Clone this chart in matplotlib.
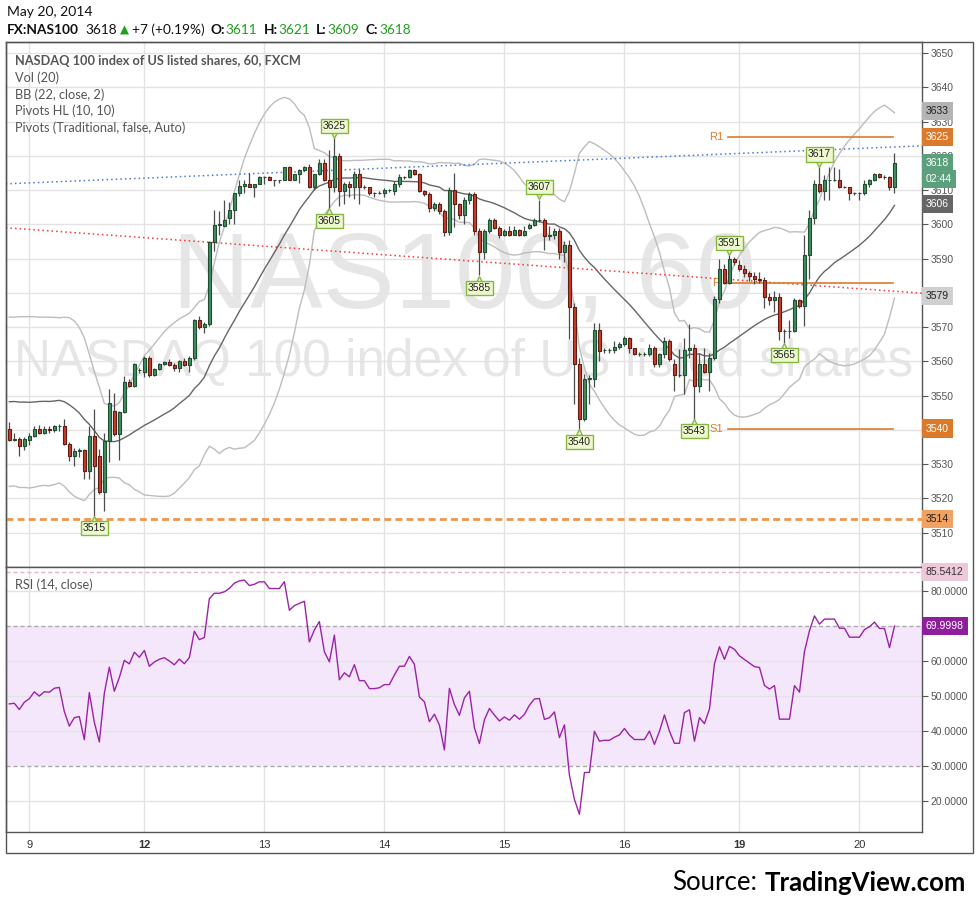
import numpy as np
import pandas as pd
import matplotlib.pyplot as plt
import matplotlib.transforms as mtransforms
from matplotlib.patches import Rectangle

plt.rcParams['font.family'] = ['Lato', 'DejaVu Sans']

# FX:NAS100, 60 min bars (May 8 - May 20, 2014)
opens = [
    3540.2, 3537.1, 3537.3, 3535.2, 3537.1, 3538.3, 3540.2, 3539.1, 3540.2, 3540.1,
    3541.0, 3541.2, 3536.0, 3532.3, 3533.9, 3534.1, 3528.1, 3538.3, 3532.5, 3522.0,
    3536.8, 3545.6, 3538.8, 3545.1, 3554.1, 3552.8, 3557.5, 3557.0, 3561.1, 3555.9,
    3557.9, 3559.2, 3559.9, 3559.0, 3558.0, 3560.1, 3559.0, 3561.1, 3572.0, 3570.1,
    3570.8, 3594.9, 3599.9, 3599.4, 3601.9, 3604.1, 3609.0, 3611.1, 3611.9, 3610.9,
    3611.9, 3613.8, 3613.8, 3612.8, 3612.8, 3612.8, 3616.7, 3612.8, 3614.8, 3615.8,
    3616.7, 3610.9, 3614.8, 3617.9, 3612.8, 3610.9, 3619.8, 3609.6, 3611.9, 3610.9,
    3614.8, 3610.9, 3610.9, 3609.0, 3609.0, 3609.0, 3609.9, 3609.6, 3611.9, 3613.8,
    3613.8, 3615.9, 3614.8, 3609.6, 3608.7, 3604.8, 3606.0, 3603.8, 3597.7, 3609.9,
    3605.8, 3602.8, 3607.0, 3608.7, 3598.0, 3591.9, 3598.0, 3601.2, 3599.0, 3597.0,
    3598.0, 3597.0, 3598.2, 3597.0, 3599.0, 3599.9, 3601.2, 3601.3, 3596.7, 3597.0,
    3598.0, 3591.9, 3594.1, 3575.9, 3559.2, 3543.1, 3555.0, 3555.0, 3569.1, 3563.3,
    3563.3, 3563.3, 3564.3, 3565.0, 3566.9, 3564.0, 3562.1, 3562.1, 3562.1, 3564.0,
    3559.2, 3562.1, 3566.0, 3559.2, 3556.0, 3556.0, 3563.3, 3564.0, 3552.8, 3559.2,
    3556.9, 3561.1, 3578.1, 3587.0, 3582.9, 3589.9, 3588.0, 3587.0, 3585.9, 3584.9,
    3583.9, 3583.7, 3578.9, 3577.9, 3578.9, 3568.9, 3568.9, 3568.9, 3577.9, 3576.1,
    3590.9, 3601.9, 3611.9, 3609.6, 3613.0, 3613.0, 3613.0, 3610.9, 3610.9, 3609.0,
    3609.0, 3609.0, 3611.9, 3613.0, 3614.8, 3613.8, 3613.8, 3610.9]
highs = [
    3542.2, 3539.0, 3537.8, 3537.8, 3539.0, 3541.2, 3541.5, 3541.2, 3541.0, 3541.4,
    3541.8, 3543.1, 3536.4, 3534.6, 3534.8, 3534.5, 3541.0, 3546.0, 3534.4, 3539.0,
    3551.9, 3550.9, 3545.6, 3555.8, 3555.0, 3559.6, 3558.2, 3561.6, 3561.6, 3558.2,
    3559.5, 3560.2, 3560.8, 3559.5, 3560.4, 3561.0, 3561.5, 3572.5, 3573.3, 3571.5,
    3595.0, 3604.1, 3603.8, 3607.0, 3606.5, 3609.2, 3613.0, 3612.8, 3615.0, 3611.9,
    3614.0, 3614.0, 3614.0, 3613.0, 3613.0, 3616.7, 3616.9, 3614.8, 3616.0, 3617.0,
    3617.5, 3614.8, 3619.0, 3619.2, 3621.7, 3625.1, 3620.8, 3612.3, 3612.5, 3615.5,
    3616.0, 3611.5, 3611.0, 3609.5, 3609.6, 3610.5, 3610.2, 3612.6, 3614.8, 3614.0,
    3616.0, 3616.0, 3615.0, 3610.0, 3609.5, 3606.5, 3606.5, 3604.5, 3611.0, 3615.0,
    3606.3, 3608.0, 3609.3, 3609.5, 3599.0, 3598.6, 3601.8, 3601.8, 3599.5, 3598.5,
    3599.5, 3599.5, 3598.5, 3599.5, 3600.5, 3601.8, 3607.2, 3601.8, 3599.5, 3599.0,
    3599.0, 3595.0, 3595.5, 3577.0, 3561.0, 3556.3, 3556.0, 3571.3, 3571.3, 3564.0,
    3563.8, 3566.0, 3565.8, 3567.5, 3567.2, 3564.0, 3562.8, 3562.8, 3565.0, 3564.5,
    3562.5, 3567.0, 3566.5, 3560.8, 3563.5, 3566.9, 3571.0, 3565.0, 3562.5, 3564.0,
    3562.5, 3579.0, 3590.0, 3588.5, 3590.9, 3590.5, 3589.5, 3588.0, 3586.5, 3586.0,
    3586.0, 3584.5, 3580.0, 3580.5, 3580.0, 3569.5, 3572.0, 3578.5, 3578.2, 3597.0,
    3604.3, 3613.0, 3616.7, 3614.5, 3616.7, 3616.7, 3616.0, 3611.3, 3611.0, 3609.3,
    3609.3, 3613.0, 3613.2, 3614.9, 3615.0, 3614.5, 3614.0, 3620.8]
lows = [
    3536.8, 3536.8, 3532.5, 3534.2, 3535.5, 3537.8, 3538.8, 3538.8, 3539.2, 3539.5,
    3539.8, 3535.6, 3531.0, 3529.4, 3532.0, 3525.7, 3525.7, 3515.0, 3521.3, 3516.4,
    3530.5, 3538.3, 3531.3, 3545.0, 3552.5, 3552.5, 3556.7, 3555.3, 3555.5, 3555.6,
    3557.5, 3558.8, 3558.6, 3557.3, 3556.9, 3558.6, 3557.0, 3560.3, 3569.5, 3568.4,
    3570.3, 3592.2, 3597.0, 3599.4, 3600.0, 3600.0, 3608.2, 3609.2, 3610.9, 3608.0,
    3611.9, 3611.9, 3612.8, 3611.2, 3612.0, 3612.8, 3612.8, 3612.8, 3612.0, 3615.5,
    3610.5, 3610.0, 3614.4, 3612.5, 3604.7, 3609.5, 3605.2, 3605.8, 3608.0, 3607.5,
    3606.0, 3610.3, 3608.5, 3608.0, 3608.8, 3608.0, 3609.3, 3608.5, 3611.0, 3613.2,
    3613.5, 3614.5, 3609.3, 3608.2, 3603.5, 3604.0, 3603.0, 3596.5, 3597.0, 3599.3,
    3601.5, 3600.0, 3606.0, 3597.0, 3585.1, 3590.0, 3597.5, 3598.5, 3596.0, 3596.5,
    3596.5, 3596.8, 3596.5, 3596.7, 3598.5, 3599.5, 3600.8, 3592.6, 3595.5, 3595.8,
    3590.0, 3589.0, 3566.4, 3547.5, 3540.2, 3542.5, 3547.5, 3552.5, 3560.0, 3562.5,
    3562.5, 3562.5, 3563.5, 3564.5, 3562.5, 3561.8, 3561.5, 3561.5, 3561.5, 3558.5,
    3558.5, 3561.0, 3560.0, 3551.4, 3555.5, 3550.4, 3561.0, 3543.3, 3551.0, 3556.5,
    3551.5, 3560.5, 3577.0, 3582.5, 3582.5, 3588.0, 3586.5, 3584.5, 3583.5, 3582.5,
    3583.0, 3575.5, 3576.5, 3574.5, 3566.2, 3565.5, 3566.7, 3568.5, 3575.5, 3570.3,
    3583.9, 3600.0, 3609.0, 3607.2, 3607.0, 3612.5, 3610.5, 3610.5, 3607.0, 3608.5,
    3607.0, 3608.5, 3611.0, 3612.5, 3613.5, 3613.3, 3609.9, 3609.2]
closes = [
    3537.1, 3537.3, 3535.2, 3537.3, 3538.3, 3540.2, 3539.1, 3540.2, 3540.1, 3541.0,
    3541.2, 3536.0, 3532.3, 3533.9, 3534.1, 3528.1, 3538.3, 3529.5, 3522.0, 3536.8,
    3548.0, 3538.8, 3545.1, 3554.1, 3552.8, 3559.2, 3557.5, 3561.1, 3555.9, 3557.9,
    3559.2, 3559.9, 3559.0, 3558.0, 3560.1, 3559.0, 3561.1, 3572.0, 3570.1, 3571.0,
    3594.9, 3599.9, 3599.9, 3601.2, 3604.1, 3609.0, 3611.1, 3611.9, 3610.9, 3611.9,
    3613.8, 3613.8, 3612.8, 3612.8, 3612.8, 3616.7, 3612.8, 3614.8, 3615.8, 3616.7,
    3610.9, 3614.8, 3617.9, 3612.8, 3610.9, 3619.8, 3609.6, 3611.9, 3610.9, 3614.8,
    3610.9, 3610.9, 3609.0, 3609.0, 3609.2, 3609.9, 3609.9, 3611.9, 3613.8, 3613.8,
    3615.9, 3614.8, 3609.6, 3608.7, 3604.8, 3606.0, 3603.8, 3597.7, 3609.9, 3605.8,
    3602.8, 3607.0, 3608.7, 3598.0, 3591.9, 3598.0, 3601.2, 3599.0, 3597.0, 3598.0,
    3597.0, 3598.2, 3597.0, 3598.0, 3599.9, 3601.2, 3601.3, 3596.7, 3597.0, 3598.0,
    3591.9, 3594.1, 3575.9, 3559.2, 3543.1, 3555.0, 3555.0, 3569.1, 3563.0, 3563.3,
    3563.3, 3564.3, 3565.0, 3566.9, 3564.0, 3562.1, 3562.1, 3562.1, 3564.0, 3559.2,
    3562.1, 3566.0, 3560.6, 3556.0, 3556.0, 3563.3, 3564.0, 3552.8, 3559.2, 3556.9,
    3561.1, 3578.1, 3587.0, 3582.9, 3589.9, 3589.0, 3587.0, 3585.9, 3584.9, 3583.9,
    3583.7, 3578.9, 3577.9, 3578.9, 3568.9, 3568.9, 3568.9, 3577.9, 3576.1, 3590.9,
    3601.9, 3611.9, 3609.6, 3613.0, 3613.0, 3613.0, 3610.9, 3610.9, 3609.0, 3609.0,
    3609.0, 3611.9, 3613.0, 3614.8, 3613.8, 3613.8, 3610.9, 3617.9]

# closes before the visible window, only used to warm up BB and RSI
prior_closes = [3536, 3539, 3537, 3540, 3538, 3536, 3539, 3541, 3538, 3537,
                3545, 3552, 3558, 3563, 3568, 3571, 3569, 3566, 3560, 3550, 3541]

day_ticks = [4, 27, 51, 75, 99, 123, 146, 170]
day_labels = ['9', '12', '13', '14', '15', '16', '19', '20']
week_start = ['12', '19']

# Pivots HL (10, 10)
pivot_hi_bars = [65, 106, 144, 162]
pivot_hi_vals = [3625, 3607, 3591, 3617]
pivot_lo_bars = [17, 64, 94, 114, 137, 155]
pivot_lo_vals = [3515, 3605, 3585, 3540, 3543, 3565]

# traditional pivots of the day
r1_level, p_level, s1_level = 3625.4, 3583.0, 3540.4
pivot_span = [143.7, 176.7]

# drawn lines
trend_x = [-0.7, 182.5]
blue_trend = [3611.8, 3622.9]
red_trend = [3599.0, 3579.9]
support_level = 3514

# last values shown on the scales
bb_last = [3633, 3606, 3579]
rsi_last = 69.9998
rsi_top_level = 85.5412
countdown = '02:44'

# ---- indicators
all_c = pd.Series(prior_closes + closes, dtype=float)
n0 = len(prior_closes)
bb_mid = all_c.rolling(22).mean()
bb_sd = all_c.rolling(22).std(ddof=0)
bb_up = (bb_mid + 2 * bb_sd).to_numpy()[n0:]
bb_lo = (bb_mid - 2 * bb_sd).to_numpy()[n0:]
bb_mid = bb_mid.to_numpy()[n0:]
chg = all_c.diff()
gain = chg.clip(lower=0).ewm(alpha=1 / 14, adjust=False).mean()
loss = (-chg.clip(upper=0)).ewm(alpha=1 / 14, adjust=False).mean()
rsi = (100 - 100 / (1 + gain / loss)).to_numpy()[n0:]

# ---- figure layout (pixel based, 980x910)
W, H = 980, 910
fig = plt.figure(figsize=(W / 100, H / 100), dpi=100)


def fx(px):
    return px / W


def fy(py):
    return 1 - py / H


ax = fig.add_axes([fx(6), fy(567), (922 - 6) / W, (567 - 42) / H])
ax_rsi = fig.add_axes([fx(6), fy(832), (922 - 6) / W, (832 - 567) / H])

grid_col = '#e3e3e3'
frame_col = '#555555'
tick_font = 'Liberation Sans'

x = np.arange(len(closes))
o, h, l, c = (np.array(v) for v in (opens, highs, lows, closes))

for a in (ax, ax_rsi):
    a.set_xlim(-0.66, 182.5)
    for d in day_ticks:
        a.axvline(d, color=grid_col, lw=1, zorder=0)
    for s in a.spines.values():
        s.set_color(frame_col)
        s.set_linewidth(1)

ax.set_ylim(3500.1, 3653.2)
ax.set_yticks(np.arange(3500, 3651, 10))
ax.grid(axis='y', color=grid_col, lw=1)
ax.set_axisbelow(True)

# watermark
ax.text(0.5, 0.547, 'NAS100, 60', transform=ax.transAxes, ha='center', va='center',
        fontsize=78, family='Liberation Sans', color='#e6e6e6', zorder=0.5)
ax.text(0.5, 0.39, 'NASDAQ 100 index of US listed shares', transform=ax.transAxes,
        ha='center', va='center', fontsize=37, family='Liberation Sans', color='#e6e6e6', zorder=0.5)

# Bollinger bands
ax.plot(x, bb_up, color='#bdbdbd', lw=1, zorder=2)
ax.plot(x, bb_lo, color='#bdbdbd', lw=1, zorder=2)
ax.plot(x, bb_mid, color='#666666', lw=1, zorder=2)

# trend lines and levels
ax.plot(trend_x, blue_trend, color='#4a7bd6', lw=1.1, ls=(0, (1, 2)), zorder=3)
ax.plot(trend_x, red_trend, color='#f03c3c', lw=1.1, ls=(0, (1, 2)), zorder=3)
ax.axhline(support_level, color='#f0954a', lw=2, ls=(0, (2.5, 1.5)), zorder=3)
for lvl, name in [(r1_level, 'R1'), (p_level, 'P'), (s1_level, 'S1')]:
    ax.plot(pivot_span, [lvl, lvl], color='#dc7a2c', lw=1.2, zorder=3)
    ax.text(pivot_span[0] - 2.4, lvl, name, ha='center', va='center', fontsize=8,
            family=tick_font, color='#dc7a2c', zorder=3)

# candles
ax.vlines(x, l, h, color='#4d4d4d', lw=0.9, zorder=4)
for i in x:
    if c[i] >= o[i]:
        fc, ec = '#3f8f5f', '#1f4d30'
    else:
        fc, ec = '#cc3b28', '#5e1c12'
    bottom = min(o[i], c[i])
    height = max(abs(c[i] - o[i]), 0.05)
    ax.add_patch(Rectangle((i - 0.32, bottom), 0.64, height, fc=fc, ec=ec, lw=0.8, zorder=5))

# pivot HL labels
lab_box = dict(boxstyle='square,pad=0.2', fc='#eef8cf', ec='#86b840', lw=1)
up_tip = mtransforms.offset_copy(ax.transData, fig=fig, x=0, y=2.3, units='points')
dn_tip = mtransforms.offset_copy(ax.transData, fig=fig, x=0, y=-2.3, units='points')
for b, v in zip(pivot_hi_bars, pivot_hi_vals):
    ax.plot(b, h[b], marker='v', ms=5, mfc='#eef8cf', mec='#86b840', mew=1, transform=up_tip, zorder=8)
    ax.annotate(str(v), xy=(b, h[b]), xytext=(0, 5.5), textcoords='offset points', ha='center',
                va='bottom', fontsize=7.5, family=tick_font, color='#222222', bbox=lab_box, zorder=9)
for b, v in zip(pivot_lo_bars, pivot_lo_vals):
    ax.plot(b, l[b], marker='^', ms=5, mfc='#eef8cf', mec='#86b840', mew=1, transform=dn_tip, zorder=8)
    ax.annotate(str(v), xy=(b, l[b]), xytext=(0, -5.5), textcoords='offset points', ha='center',
                va='top', fontsize=7.5, family=tick_font, color='#222222', bbox=lab_box, zorder=9)

# pane legend
legend_lines = ['NASDAQ 100 index of US listed shares, 60, FXCM', 'Vol (20)', 'BB (22, close, 2)',
                'Pivots HL (10, 10)', 'Pivots (Traditional, false, Auto)']
for k, (txt, py) in enumerate(zip(legend_lines, [61, 77.7, 94.5, 111, 127.7])):
    ax.text((15 - 6) / 916, (567 - py) / 525, txt, transform=ax.transAxes, ha='left', va='center',
            fontsize=9.2, color='#555555', fontweight='bold' if k == 0 else 'normal', zorder=7)

ax.tick_params(axis='y', left=False, right=True, labelleft=False, labelright=True, length=4,
               color=frame_col, labelsize=7.5, labelcolor='#555555', pad=2)
ax.tick_params(axis='x', length=0, labelbottom=False)
ax.set_xticks(day_ticks)
for t in ax.get_yticklabels():
    t.set_family(tick_font)


def tag(a, val, text, bg, fg='white'):
    a.text(1 + 4 / 916, val, text, transform=a.get_yaxis_transform(), ha='left', va='center',
           fontsize=7.5, family=tick_font, color=fg, clip_on=False, zorder=20,
           bbox=dict(boxstyle='square,pad=0.4', fc=bg, ec='none'))


tag(ax, bb_last[0], str(bb_last[0]), '#b4b4b4', '#222222')
tag(ax, r1_level, f'{r1_level:.0f}', '#dc7a2c')
tag(ax, c[-1], f'{c[-1]:.0f}', '#5c9f7c')
tag(ax, c[-1] - 4.6, countdown, '#5c9f7c')
tag(ax, bb_last[1], str(bb_last[1]), '#666666')
tag(ax, bb_last[2], str(bb_last[2]), '#d0d0d0', '#222222')
tag(ax, s1_level, f'{s1_level:.0f}', '#dc7a2c')
tag(ax, support_level, f'{support_level:.0f}', '#f0a262', '#222222')

# ---- RSI pane
ax_rsi.set_ylim(11.0, 86.9)
ax_rsi.axhspan(30, 70, color='#f5e7fb', lw=0, zorder=0)
for v in [20, 40, 50, 60, 80]:
    ax_rsi.axhline(v, color=grid_col, lw=1, zorder=0.5)
for v in [30, 70]:
    ax_rsi.axhline(v, color='#aaaaaa', lw=1, ls=(0, (3, 2)), zorder=1)
ax_rsi.axhline(rsi_top_level, color='#e8b0c6', lw=1, ls=(0, (3, 2)), zorder=1)
ax_rsi.plot(x, rsi, color='#9b22a8', lw=1, zorder=3)
ax_rsi.text((15 - 6) / 916, (832 - 585) / 265, 'RSI (14, close)', transform=ax_rsi.transAxes,
            ha='left', va='center', fontsize=9.2, color='#555555')
ax_rsi.set_yticks([20, 30, 40, 50, 60, 70, 80])
ax_rsi.yaxis.set_major_formatter(plt.FormatStrFormatter('%.4f'))
ax_rsi.tick_params(axis='y', left=False, right=True, labelleft=False, labelright=True, length=4,
                   color=frame_col, labelsize=7.5, labelcolor='#555555', pad=2)
for t in ax_rsi.get_yticklabels():
    t.set_family(tick_font)
ax_rsi.set_xticks(day_ticks)
ax_rsi.set_xticklabels(day_labels)
ax_rsi.tick_params(axis='x', length=0, pad=6, labelsize=8, labelcolor='#333333')
for t in ax_rsi.get_xticklabels():
    t.set_family(tick_font)
    if t.get_text() in week_start:
        t.set_fontweight('bold')
tag(ax_rsi, rsi_top_level, f'{rsi_top_level:.4f}', '#ecc8d8', '#333333')
tag(ax_rsi, rsi_last, f'{rsi_last:.4f}', '#8e1e9c')

# outer frame
fig.add_artist(Rectangle((fx(6), fy(853)), (973 - 6) / W, (853 - 42) / H, transform=fig.transFigure,
                         fill=False, ec=frame_col, lw=1))

# ---- header, pieces placed one after another
renderer = fig.canvas.get_renderer()
fig.text(fx(7), fy(12), 'May 20, 2014', ha='left', va='center', fontsize=10, color='#111111')
green = '#1f9e1f'
dark = '#111111'
header = [('FX:NAS100', dark, 'bold', 6), ('3618', dark, 'normal', 3), ('\u25b2', green, 'normal', 3),
          ('+7 (+0.19%)', dark, 'normal', 6), ('O:', dark, 'bold', 1), ('3611', green, 'normal', 6),
          ('H:', dark, 'bold', 1), ('3621', green, 'normal', 6), ('L:', dark, 'bold', 1),
          ('3609', green, 'normal', 6), ('C:', dark, 'bold', 1), ('3618', green, 'normal', 0)]
xpos = 7
for txt, col, wt, gap in header:
    fam = ['DejaVu Sans'] if txt == '\u25b2' else ['Lato', 'DejaVu Sans']
    t = fig.text(fx(xpos), fy(30), txt, ha='left', va='center', fontsize=9.8 if txt != '\u25b2' else 8.5,
                 fontweight=wt, color=col, family=fam)
    xpos = t.get_window_extent(renderer).x1 + gap

# ---- source
src = fig.text(fx(966), fy(883), 'TradingView.com', ha='right', va='center', fontsize=18.5,
               fontweight='bold', color='#000000')
left_edge = src.get_window_extent(renderer).x0
fig.text(fx(left_edge - 7), fy(883), 'Source:', ha='right', va='center', fontsize=18.5, color='#000000')

fig.savefig('out.png', dpi=100, facecolor='white')
